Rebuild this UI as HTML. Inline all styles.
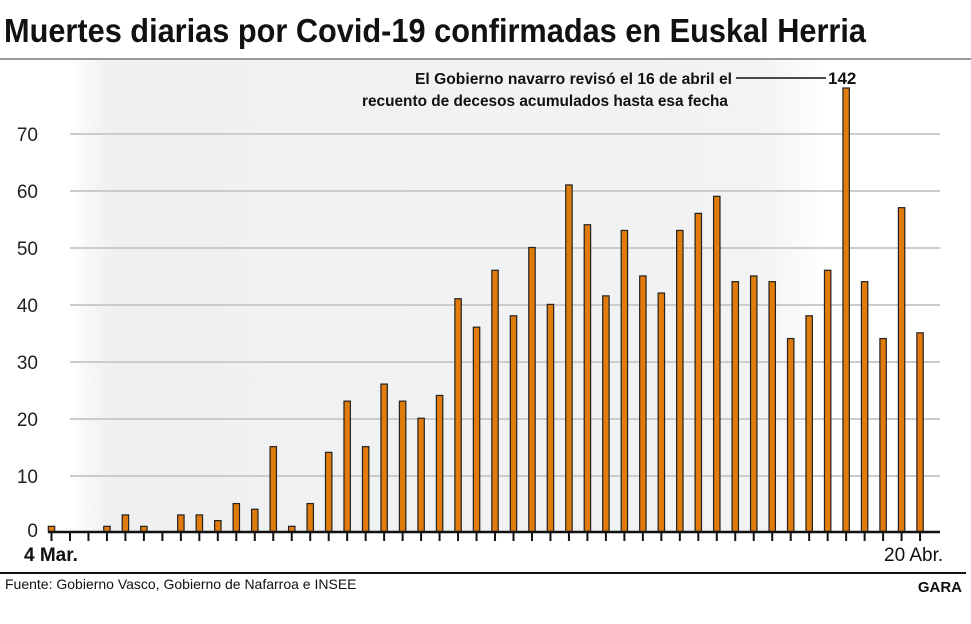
<!DOCTYPE html>
<html><head><meta charset="utf-8"><style>
body{margin:0;background:#fff;width:971px;height:619px;overflow:hidden;font-family:"Liberation Sans Narrow","Liberation Sans",sans-serif;}
</style></head><body>
<svg width="971" height="619" xmlns="http://www.w3.org/2000/svg" font-family="Liberation Sans Narrow, Liberation Sans, sans-serif">
<defs>
<linearGradient id="bg" x1="0" x2="1" y1="0" y2="0">
<stop offset="0" stop-color="#eef0f2" stop-opacity="0"/>
<stop offset="0.05" stop-color="#eef0f2"/>
<stop offset="0.9" stop-color="#f2f3f5"/>
<stop offset="0.98" stop-color="#f2f3f5" stop-opacity="0"/>
</linearGradient>
</defs>
<text x="4" y="42" font-size="33" font-weight="bold" fill="#111" textLength="862" lengthAdjust="spacingAndGlyphs">Muertes diarias por Covid-19 confirmadas en Euskal Herria</text>
<line x1="0" y1="59" x2="971" y2="59" stroke="#777" stroke-width="1.5"/>
<rect x="70" y="60" width="770" height="472" fill="url(#bg)"/>
<g stroke="#ccc" stroke-width="2">
<line x1="70" y1="134" x2="940" y2="134"/><line x1="70" y1="191" x2="940" y2="191"/>
<line x1="70" y1="248" x2="940" y2="248"/><line x1="70" y1="305" x2="940" y2="305"/>
<line x1="70" y1="362" x2="940" y2="362"/><line x1="70" y1="419" x2="940" y2="419"/>
<line x1="70" y1="476" x2="940" y2="476"/>
</g>
<g font-size="19" fill="#222" text-anchor="end">
<text x="38" y="141">70</text><text x="38" y="198">60</text><text x="38" y="255">50</text>
<text x="38" y="312">40</text><text x="38" y="369">30</text><text x="38" y="426">20</text>
<text x="38" y="483">10</text><text x="38" y="537">0</text>
</g>
<g fill="#e07b0c" stroke="#222" stroke-width="1.2">
<rect x="48.3" y="526.31" width="6.4" height="5.69"/>
<rect x="103.74" y="526.31" width="6.4" height="5.69"/>
<rect x="122.22" y="514.93" width="6.4" height="17.07"/>
<rect x="140.7" y="526.31" width="6.4" height="5.69"/>
<rect x="177.66" y="514.93" width="6.4" height="17.07"/>
<rect x="196.14" y="514.93" width="6.4" height="17.07"/>
<rect x="214.62" y="520.62" width="6.4" height="11.38"/>
<rect x="233.1" y="503.55" width="6.4" height="28.45"/>
<rect x="251.58" y="509.24" width="6.4" height="22.76"/>
<rect x="270.06" y="446.65" width="6.4" height="85.35"/>
<rect x="288.54" y="526.31" width="6.4" height="5.69"/>
<rect x="307.02" y="503.55" width="6.4" height="28.45"/>
<rect x="325.5" y="452.34" width="6.4" height="79.66"/>
<rect x="343.98" y="401.13" width="6.4" height="130.87"/>
<rect x="362.46" y="446.65" width="6.4" height="85.35"/>
<rect x="380.94" y="384.06" width="6.4" height="147.94"/>
<rect x="399.42" y="401.13" width="6.4" height="130.87"/>
<rect x="417.9" y="418.2" width="6.4" height="113.8"/>
<rect x="436.38" y="395.44" width="6.4" height="136.56"/>
<rect x="454.86" y="298.71" width="6.4" height="233.29"/>
<rect x="473.34" y="327.16" width="6.4" height="204.84"/>
<rect x="491.82" y="270.26" width="6.4" height="261.74"/>
<rect x="510.3" y="315.78" width="6.4" height="216.22"/>
<rect x="528.78" y="247.5" width="6.4" height="284.5"/>
<rect x="547.26" y="304.4" width="6.4" height="227.6"/>
<rect x="565.74" y="184.91" width="6.4" height="347.09"/>
<rect x="584.22" y="224.74" width="6.4" height="307.26"/>
<rect x="602.7" y="295.87" width="6.4" height="236.13"/>
<rect x="621.18" y="230.43" width="6.4" height="301.57"/>
<rect x="639.66" y="275.95" width="6.4" height="256.05"/>
<rect x="658.14" y="293.02" width="6.4" height="238.98"/>
<rect x="676.62" y="230.43" width="6.4" height="301.57"/>
<rect x="695.1" y="213.36" width="6.4" height="318.64"/>
<rect x="713.58" y="196.29" width="6.4" height="335.71"/>
<rect x="732.06" y="281.64" width="6.4" height="250.36"/>
<rect x="750.54" y="275.95" width="6.4" height="256.05"/>
<rect x="769.02" y="281.64" width="6.4" height="250.36"/>
<rect x="787.5" y="338.54" width="6.4" height="193.46"/>
<rect x="805.98" y="315.78" width="6.4" height="216.22"/>
<rect x="824.46" y="270.26" width="6.4" height="261.74"/>
<rect x="842.94" y="88" width="6.4" height="444"/>
<rect x="861.42" y="281.64" width="6.4" height="250.36"/>
<rect x="879.9" y="338.54" width="6.4" height="193.46"/>
<rect x="898.38" y="207.67" width="6.4" height="324.33"/>
<rect x="916.86" y="332.85" width="6.4" height="199.15"/>
</g>
<g id="ticks" stroke="#111" stroke-width="2"></g>
<line x1="48" y1="532" x2="940" y2="532" stroke="#111" stroke-width="2.5"/>
<text x="24" y="561" font-size="19" font-weight="bold" fill="#111">4 Mar.</text>
<text x="884" y="561" font-size="19" fill="#111">20 Abr.</text>
<text x="415" y="84" font-size="16" font-weight="bold" fill="#111" textLength="317" lengthAdjust="spacingAndGlyphs">El Gobierno navarro revisó el 16 de abril el</text>
<text x="362" y="106" font-size="16" font-weight="bold" fill="#111" textLength="366" lengthAdjust="spacingAndGlyphs">recuento de decesos acumulados hasta esa fecha</text>
<line x1="736" y1="78" x2="826" y2="78" stroke="#111" stroke-width="1.5"/>
<text x="828" y="84" font-size="17" font-weight="bold" fill="#111">142</text>
<line x1="0" y1="573" x2="966" y2="573" stroke="#111" stroke-width="2"/>
<text x="5" y="589" font-size="14" fill="#111">Fuente: Gobierno Vasco, Gobierno de Nafarroa e INSEE</text>
<text x="962" y="592" font-size="15" font-weight="bold" fill="#111" text-anchor="end">GARA</text>
</svg>
<script>
(function(){var t=document.getElementById('ticks'),ns='http://www.w3.org/2000/svg';
for(var i=0;i<48;i++){var cx=51.5+i*18.48;
var tk=document.createElementNS(ns,'line');tk.setAttribute('x1',cx);tk.setAttribute('x2',cx);tk.setAttribute('y1',532);tk.setAttribute('y2',541);t.appendChild(tk);}})();
</script>
</body></html>
